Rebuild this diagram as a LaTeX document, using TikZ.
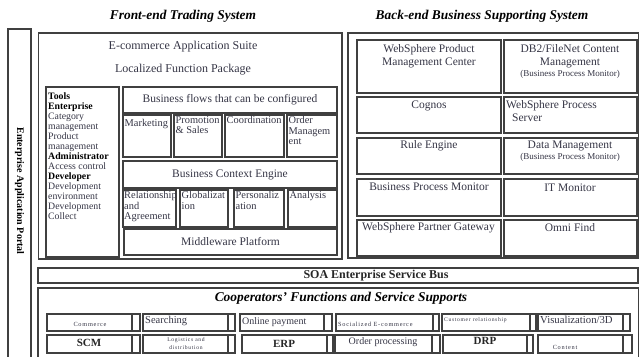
\documentclass[tikz,border=0pt]{standalone}
\usepackage{fontspec}
\setmainfont{Liberation Serif}
\usetikzlibrary{fit,calc}
\definecolor{boxc}{HTML}{404040}
\definecolor{txtc}{HTML}{353545}
\newcommand\cellpair[6]{%
  \node[box, fit={(#2,#4)(#3,#5)}] (#1) {};
  \node[box, fit={(#3,#4)(#6,#5)}] (#1s) {};}
\begin{document}
\begin{tikzpicture}[x=1pt,y=-1pt,
  box/.style={draw=boxc, line width=1.2pt, inner sep=0pt},
  outer/.style={draw=boxc, line width=1.4pt, inner sep=0pt},
  lbl/.style={font=\fontsize{11.5}{13}\selectfont, text=txtc, inner sep=0pt, align=center},
  cl/.style={font=\fontsize{10.4}{10.3}\selectfont, text=txtc, inner sep=0pt, align=left, anchor=north west},
  sm/.style={font=\fontsize{9}{10}\selectfont, text=txtc, inner sep=0pt},
  tiny/.style={font=\fontsize{6.3}{8.5}\selectfont\addfontfeature{LetterSpace=12}, text=txtc, inner sep=0pt, align=center},
  bl/.style={font=\bfseries\fontsize{11.5}{13}\selectfont, text=black!85, inner sep=0pt},
  ttl/.style={font=\bfseries\itshape\fontsize{13.4}{15}\selectfont, inner sep=0pt}
]
\useasboundingbox (0,0) rectangle (639,356);

% titles
\node[ttl] (tfront) at (183,16) {Front-end Trading System};
\node[ttl] (tback) at (482,16) {Back-end Business Supporting System};

% portal
\node[outer, fit={(8,29)(31,362)}] (portal) {};
\node[font=\bfseries\fontsize{10}{12}\selectfont, rotate=-90, inner sep=0pt] (tportal) at (19.5,191) {Enterprise Application Portal};

% front-end
\node[outer, fit={(38.5,33)(342,259)}] (front) {};
\node[lbl, font=\fontsize{12}{14}\selectfont] (tsuite) at (183,47) {E-commerce Application Suite};
\node[lbl, font=\fontsize{12}{14}\selectfont] (tlocal) at (183,70) {Localized Function Package};

\node[box, fit={(46,87)(119,257)}] (tools) {};
\node[font=\fontsize{9.8}{10}\selectfont, text=txtc, inner sep=0pt, align=left, anchor=north west] (ttools) at (48,92)
 {\textcolor{black}{\bfseries Tools}\\\textcolor{black}{\bfseries Enterprise}\\Category\\management\\Product\\management\\
  \textcolor{black}{\bfseries Administrator}\\Access control\\\textcolor{black}{\bfseries Developer}\\Development\\environment\\Development\\Collect};

\node[box, fit={(123,87)(337,113)}] (flows) {};
\node[lbl] (tflows) at (flows.center) {Business flows that can be configured};

\node[box, fit={(123,115)(171,157)}] (mkt) {};
\node[cl] (tmkt) at (124.5,119.5) {Marketing};
\node[box, fit={(174,115)(222,157)}] (promo) {};
\node[cl] (tpromo) at (175.5,116.5) {Promotion\\\& Sales};
\node[box, fit={(225,115)(284,157)}] (coord) {};
\node[cl] (tcoord) at (226.5,116.5) {Coordination};
\node[box, fit={(287,115)(337,157)}] (order) {};
\node[cl] (torder) at (288.5,116.5) {Order\\Managem\\ent};

\node[box, fit={(123,161)(337,188)}] (bce) {};
\node[lbl] (tbce) at (bce.center) {Business Context Engine};

\node[box, fit={(123,190)(176,227)}] (rel) {};
\node[cl] (trel) at (124,191.5) {Relationship\\and\\Agreement};
\node[box, fit={(180,190)(228,227)}] (glob) {};
\node[cl] (tglob) at (181.5,191.5) {Globalizat\\ion};
\node[box, fit={(234,190)(284,227)}] (pers) {};
\node[cl] (tpers) at (235.5,191.5) {Personaliz\\ation};
\node[box, fit={(288,190)(337,227)}] (anal) {};
\node[cl] (tanal) at (289.5,191.5) {Analysis};

\node[box, fit={(124,229)(337,255)}] (mw) {};
\node[lbl] (tmw) at (mw.center) {Middleware Platform};

% back-end
\node[outer, fit={(348,33)(638.5,258)}] (back) {};
\node[box, fit={(357,40)(501,93)}] (wpmc) {};
\node[lbl, anchor=north] (twpmc) at (429,44) {WebSphere Product\\Management Center};
\node[box, fit={(504,40)(637,93)}] (db2) {};
\node[lbl, anchor=north] (tdb2) at (570,44) {DB2/FileNet Content\\Management};
\node[sm] (tdb2b) at (570,74) {(Business Process Monitor)};
\node[box, fit={(357,97)(501,133)}] (cog) {};
\node[lbl] (tcog) at (429,106) {Cognos};
\node[box, fit={(504,97)(637,133)}] (wps) {};
\node[lbl, align=left, anchor=north west] (twps) at (506,100) {WebSphere Process\\\hspace{6pt}Server};
\node[box, fit={(357,138)(501,174)}] (rule) {};
\node[lbl] (trule) at (429,146) {Rule Engine};
\node[box, fit={(504,138)(637,174)}] (dm) {};
\node[lbl] (tdm) at (570,146) {Data Management};
\node[sm] (tdmb) at (570,157.5) {(Business Process Monitor)};
\node[box, fit={(357,179)(501,216)}] (bpm) {};
\node[lbl] (tbpm) at (429,187) {Business Process Monitor};
\node[box, fit={(504,179)(637,216)}] (itm) {};
\node[lbl] (titm) at (570,188) {IT Monitor};
\node[box, fit={(357,220)(501,256)}] (wpg) {};
\node[lbl] (twpg) at (428.5,228) {WebSphere Partner Gateway};
\node[box, fit={(504,220)(637,256)}] (omni) {};
\node[lbl] (tomni) at (570,228) {Omni Find};

% SOA bus
\node[outer, fit={(38,268)(638,283)}] (soa) {};
\node[bl, font=\bfseries\fontsize{12}{13}\selectfont] (tsoa) at (376,276) {SOA Enterprise Service Bus};

% cooperators
\node[outer, fit={(38,288)(639,362)}] (coop) {};
\node[ttl] (tcoop) at (341,298) {Cooperators' Functions and Service Supports};

\cellpair{com}{47}{132}{314}{331}{140}
\cellpair{sea}{143}{228}{314}{331}{235}
\cellpair{onl}{240}{324}{314}{331}{332}
\cellpair{soc}{336}{433}{314}{331}{439}
\cellpair{cus}{442}{530}{314}{331}{536}
\cellpair{vis}{538}{623}{314}{331}{630}

\cellpair{scm}{47}{132}{335}{353}{140}
\cellpair{log}{143}{228}{335}{353}{235}
\cellpair{erp}{242}{327}{335}{353}{333}
\cellpair{ordp}{335}{432}{335}{353}{440}
\cellpair{drp}{443}{527}{335}{353}{533}
\cellpair{con}{538}{623}{335}{353}{632}

\node[tiny] (tcom) at (90,324) {Commerce};
\node[lbl, font=\fontsize{10.5}{12}\selectfont, anchor=west] (tsea) at (145,321) {Searching};
\node[lbl, font=\fontsize{10}{12}\selectfont, anchor=west] (tonl) at (242,322) {Online payment};
\node[tiny, anchor=west] (tsoc) at (338,324) {Socialized E-commerce};
\node[tiny, anchor=west, font=\fontsize{5.6}{7}\selectfont\addfontfeature{LetterSpace=12}] (tcus) at (444,320) {Customer relationship};
\node[lbl, font=\fontsize{10.7}{12}\selectfont, anchor=west] (tvis) at (540,320) {Visualization/3D};

\node[bl, font=\bfseries\fontsize{11}{12}\selectfont] (tscm) at (89,343) {SCM};
\node[tiny, font=\fontsize{5.6}{8.5}\selectfont\addfontfeature{LetterSpace=12}] (tlog) at (186,343.5) {Logistics and\\distribution};
\node[bl, font=\bfseries\fontsize{11}{12}\selectfont] (terp) at (284,344) {ERP};
\node[lbl, font=\fontsize{10}{12}\selectfont] (tordp) at (383,342) {Order processing};
\node[bl, font=\bfseries\fontsize{11}{12}\selectfont] (tdrp) at (485,341) {DRP};
\node[tiny] (tcon) at (565,347) {Content};
\end{tikzpicture}
\end{document}
